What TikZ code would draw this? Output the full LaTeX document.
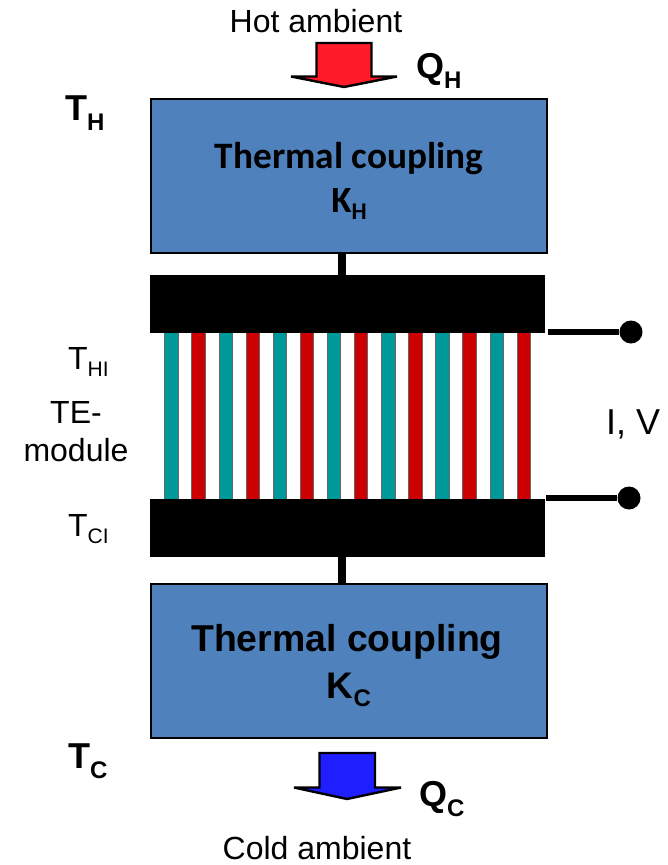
\documentclass[tikz,border=0pt]{standalone}
\usepackage{fontspec}
\setmainfont{Liberation Sans}
\newfontfamily\carl{Carlito}
\definecolor{boxblue}{RGB}{79,129,189}
\definecolor{teal1}{RGB}{0,153,153}
\definecolor{red1}{RGB}{204,0,0}
\definecolor{hot}{RGB}{255,28,40}
\definecolor{cold}{RGB}{30,30,255}
\newcommand{\fs}[1]{\fontsize{#1}{#1}\selectfont}
\tikzset{
  x=1pt,y=-1pt,
  coupling/.style={draw=black,line width=1.5pt,fill=boxblue,minimum width=396pt,minimum height=154pt,inner sep=0pt,align=center,text=black},
  plate/.style={draw=black,line width=.8pt,fill=black,minimum width=394pt,minimum height=57pt,inner sep=0pt},
  stem/.style={line width=8pt,black},
  wire/.style={line width=6.5pt,black},
  terminal/.style={circle,fill=black,minimum size=23pt,inner sep=0pt},
  legtealbar/.style={draw=black!60,line width=.7pt,fill=teal1},
  legredbar/.style={draw=black!60,line width=.7pt,fill=red1},
  flow/.style={draw=black,line width=2.4pt,line join=miter,miter limit=3},
  lbl/.style={inner sep=0pt,text=black,align=center},
}
\begin{document}
\begin{tikzpicture}
\useasboundingbox (0,0) rectangle (668,865);
\fill[white] (0,0) rectangle (668,865);
% TE legs
\foreach \i in {0,...,13}{
  \pgfmathsetmacro{\xa}{164.7+27.1*\i}
  \pgfmathtruncatemacro{\odd}{mod(\i,2)}
  \ifnum\odd=0
    \draw[legtealbar] (\xa,330) rectangle (\xa+13.4,500);
  \else
    \draw[legredbar] (\xa,330) rectangle (\xa+13.4,500);
  \fi
}
% boxes
\node[coupling] (hotbox) at (349,176) {};
\node[coupling] (coldbox) at (349,661) {};
\node[plate] (topplate) at (347.5,303.5) {};
\node[plate] (botplate) at (347.5,527.5) {};
\draw[stem] (hotbox.south -| 342,0) -- (topplate.north -| 342,0);
\draw[stem] (botplate.south -| 342,0) -- (coldbox.north -| 342,0);
% terminals
\node[terminal] (t1) at (631,332) {};
\node[terminal] (t2) at (629,498) {};
\coordinate (w1) at (548,332);
\coordinate (w2) at (546,498);
\draw[wire] (w1) -- (t1);
\draw[wire] (w2) -- (t2);
% arrows
\draw[flow,fill=hot] (316.5,43) -- (371.5,43) -- (371.5,76.5) -- (397,76.5) -- (344,87) -- (291,76.5) -- (316.5,76.5) -- cycle;
\draw[flow,fill=cold] (319.5,753) -- (375,753) -- (375,787.5) -- (401,787.5) -- (347,799) -- (294,787.5) -- (319.5,787.5) -- cycle;
% labels
\node[lbl] (hotlbl) at (316,21) {\fs{32}Hot ambient};
\node[lbl] (coldlbl) at (317,848) {\fs{32}Cold ambient};
\node[lbl,anchor=base west] (qh) at (416,78) {\fs{36}\bfseries Q\raisebox{-10pt}{\fs{24}H}};
\node[lbl,anchor=base west] (qc) at (419,806) {\fs{36}\bfseries Q\raisebox{-10pt}{\fs{24}C}};
\node[lbl,anchor=base west] (th) at (65,120) {\fs{36}\bfseries T\raisebox{-10pt}{\fs{24}H}};
\node[lbl,anchor=base west] (tc) at (68,768) {\fs{36}\bfseries T\raisebox{-10pt}{\fs{24}C}};
\node[lbl,anchor=base west] (thi) at (68,369) {\fs{32}T\raisebox{-7pt}{\fs{21}HI}};
\node[lbl,anchor=base west] (tci) at (68,536) {\fs{32}T\raisebox{-7pt}{\fs{21}CI}};
\node[lbl,font=\fontsize{32}{38}\selectfont] (te) at (76,432) {TE-\\module};
\node[lbl,anchor=base west] (iv) at (606,434) {\fs{36}I, V};
\node[lbl,anchor=base] (hk1) at (349,168) {\carl\fs{37.3}\bfseries Thermal coupling};
\node[lbl,anchor=base] (hk2) at (349,212) {\carl\fs{37}\bfseries K\raisebox{-7pt}{\fs{24}H}};
\node[lbl,anchor=base] (ck1) at (347,651) {\fs{37.4}\bfseries Thermal coupling};
\node[lbl,anchor=base] (ck2) at (349,698) {\fs{37}\bfseries K\raisebox{-8pt}{\fs{24}C}};
\end{tikzpicture}
\end{document}
